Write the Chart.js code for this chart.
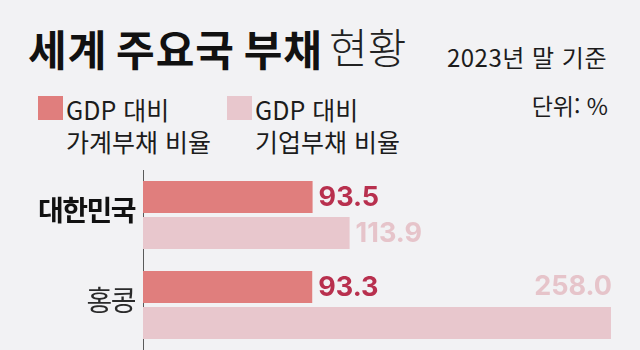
<!DOCTYPE html>
<html lang="ko">
<head>
<meta charset="utf-8">
<script src="https://cdn.jsdelivr.net/npm/chart.js@4.4.1/dist/chart.umd.min.js"></script>
<style>
  html, body { margin: 0; padding: 0; background: #f2f2f4; }
  #wrap { position: relative; width: 640px; height: 350px; overflow: hidden; background: #f2f2f4;
          font-family: "Noto Sans CJK KR", "Noto Sans", sans-serif; color: #1c1c1c; }
  .t { position: absolute; white-space: nowrap; line-height: 1; }
  #title { left: 28px; top: 27px; font-size: 42px; font-weight: 700; letter-spacing: 1px; word-spacing: -4px; color: #111; }
  #title .light { position: relative; top: -2px; font-weight: 300; letter-spacing: 0px; margin-left: 6px; color: #222; }
  #basis { right: 33px; top: 45px; font-size: 24px; letter-spacing: 0.5px; }
  #unit { right: 32px; top: 94px; font-size: 23px; }
  .lg { position: absolute; top: 96px; }
  .lg .sw { position: absolute; left: 0; top: 0; width: 25px; height: 24px; }
  .lg .tx { position: absolute; left: 28px; top: -3px; font-size: 25px; line-height: 32px; white-space: nowrap; }
  #chartBox { position: absolute; left: 0; top: 170px; width: 640px; height: 180px; }
</style>
</head>
<body>
<div id="wrap">
  <div id="title" class="t">세계 주요국 부채<span class="light">현황</span></div>
  <div id="basis" class="t">2023년 말 기준</div>
  <div id="legend"></div>
  <div id="unit" class="t">단위: %</div>
  <div id="chartBox"><canvas id="c" width="640" height="180"></canvas></div>
</div>
<script>
// Countries and debt ratios (% of GDP, end of 2023)
const countries = ["대한민국", "홍콩"];
const householdDebt = [93.5, 93.3];
const corporateDebt = [113.9, 258.0];
const seriesNames = [["GDP 대비", "가계부채 비율"], ["GDP 대비", "기업부채 비율"]];

const barColors = ["#e07e7d", "#e8c7cd"];
const valueColors = ["#b8304e", "#e6c4ca"];

// Legend built from the series names and colours
const legendLefts = [38, 227];
const legendEl = document.getElementById("legend");
seriesNames.forEach((lines, i) => {
  const item = document.createElement("div");
  item.className = "lg";
  item.style.left = legendLefts[i] + "px";
  const sw = document.createElement("div");
  sw.className = "sw";
  sw.style.background = barColors[i];
  const tx = document.createElement("div");
  tx.className = "tx";
  tx.innerHTML = lines.join("<br>");
  item.appendChild(sw);
  item.appendChild(tx);
  legendEl.appendChild(item);
});

// Slightly tighter category labels
const tightText = {
  id: "tightText",
  beforeDraw(chart) { chart.ctx.letterSpacing = "-1.5px"; }
};

// Value labels at the end of each bar; a label that would overflow the
// plot goes above its bar, right-aligned to the bar end
const valueLabels = {
  id: "valueLabels",
  afterDatasetsDraw(chart) {
    const ctx = chart.ctx;
    const area = chart.chartArea;
    ctx.save();
    ctx.font = "700 27px Inter, 'Noto Sans', sans-serif";
    ctx.letterSpacing = "0px";
    ctx.textBaseline = "middle";
    chart.data.datasets.forEach((ds, di) => {
      const meta = chart.getDatasetMeta(di);
      meta.data.forEach((bar, i) => {
        const txt = ds.data[i].toFixed(1);
        const w = ctx.measureText(txt).width;
        ctx.fillStyle = valueColors[di];
        if (bar.x + 6 + w > area.right) {
          ctx.textAlign = "right";
          ctx.fillText(txt, bar.x + 1, bar.y - 36);
        } else {
          ctx.textAlign = "left";
          ctx.fillText(txt, bar.x + 6, bar.y + 1);
        }
      });
    });
    ctx.restore();
  }
};

new Chart(document.getElementById("c"), {
  type: "bar",
  data: {
    labels: countries,
    datasets: [
      { label: seriesNames[0].join(" "), data: householdDebt, backgroundColor: barColors[0],
        categoryPercentage: 0.8, barPercentage: 0.889 },
      { label: seriesNames[1].join(" "), data: corporateDebt, backgroundColor: barColors[1],
        categoryPercentage: 0.8, barPercentage: 0.889 }
    ]
  },
  options: {
    indexAxis: "y",
    responsive: false,
    animation: false,
    layout: { padding: 0 },
    plugins: { legend: { display: false }, tooltip: { enabled: false } },
    scales: {
      x: { min: 0, max: 274, display: false },
      y: {
        grid: { display: false, drawTicks: false },
        border: { display: true, color: "#5a5a5a", width: 1 },
        afterFit(scale) {
          scale.width = 143;
          scale.paddingTop = 0;
          scale.paddingBottom = 0;
        },
        ticks: {
          padding: 8,
          labelOffset: -5,
          color: (ctx) => ctx.index === 0 ? "#111" : "#2a2a2a",
          font: (ctx) => ({
            family: "'Noto Sans CJK KR', sans-serif",
            size: 28,
            weight: ctx.index === 0 ? "700" : "400"
          })
        }
      }
    }
  },
  plugins: [tightText, valueLabels]
});
</script>
</body>
</html>
